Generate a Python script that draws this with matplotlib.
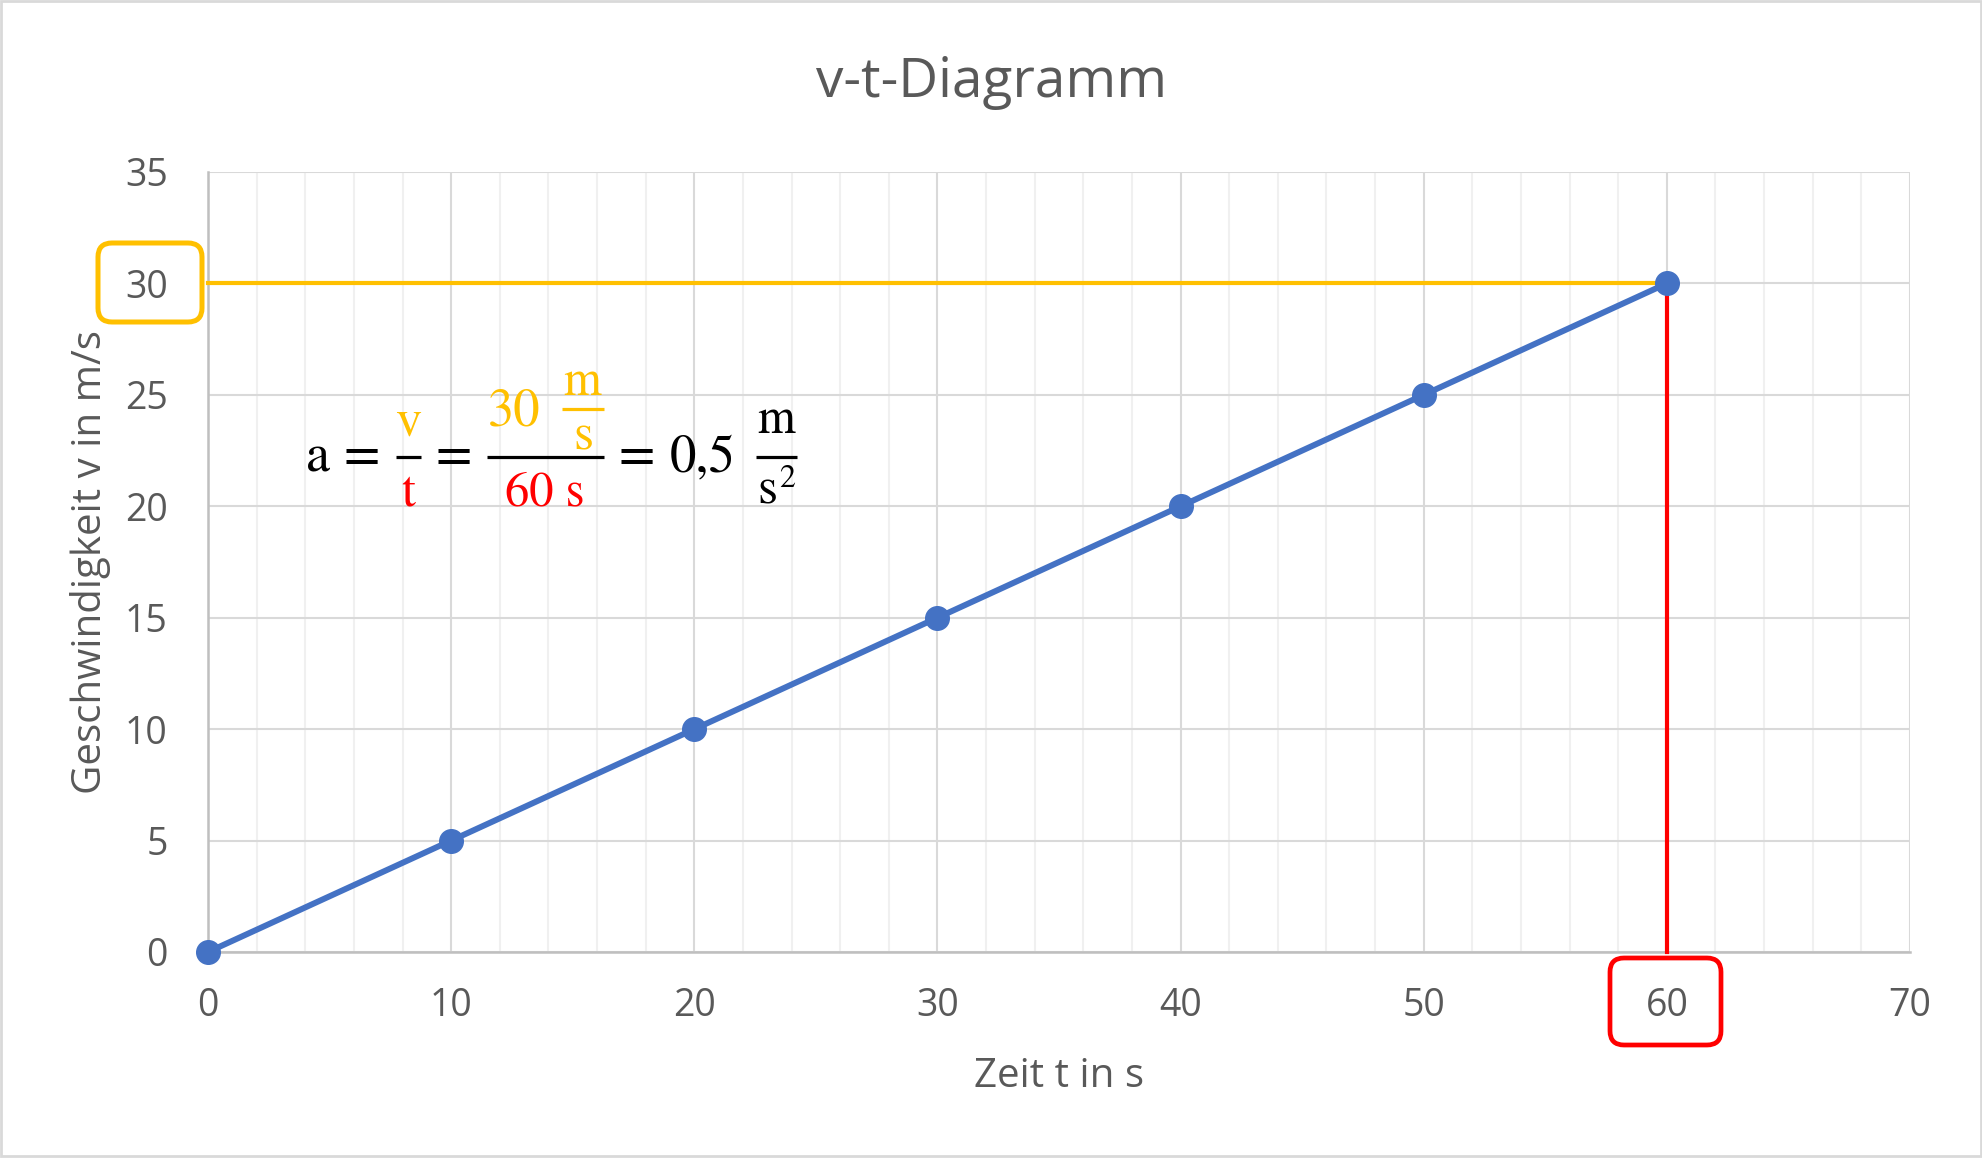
import matplotlib
matplotlib.use("Agg")
import matplotlib.pyplot as plt
from matplotlib.lines import Line2D
from matplotlib.patches import FancyBboxPatch
from matplotlib.transforms import Affine2D
from matplotlib.ticker import MultipleLocator

# ---- data ----
zeit = [0, 10, 20, 30, 40, 50, 60]
geschwindigkeit = [0, 5, 10, 15, 20, 25, 30]
x_ticks = [0, 10, 20, 30, 40, 50, 60, 70]
y_ticks = [0, 5, 10, 15, 20, 25, 30, 35]
v_mark = 30
t_mark = 60
title = "v-t-Diagramm"
x_label = "Zeit t in s"
y_label = "Geschwindigkeit v in m/s"

W, H = 1983, 1158
DPI = 100
SANS = ["Open Sans", "DejaVu Sans"]
SERIF = ["STIXGeneral", "DejaVu Serif"]
GREY = "#595959"
BLUE = "#4472C4"
YEL = "#FFC000"
RED = "#FF0000"

plt.rcParams["font.family"] = SANS
fig = plt.figure(figsize=(W / DPI, H / DPI), dpi=DPI)
px = Affine2D().scale(1 / W, -1 / H).translate(0, 1) + fig.transFigure  # pixel coords, y down

ax = fig.add_axes([208 / W, (H - 952) / H, (1910 - 208) / W, (952 - 172) / H])
ax.set_xlim(0, 70)
ax.set_ylim(0, 35)
ax.set_xticks(x_ticks)
ax.set_yticks(y_ticks)
ax.xaxis.set_minor_locator(MultipleLocator(2))
ax.grid(which="major", axis="both", color="#d9d9d9", linewidth=1.5, zorder=0)
ax.grid(which="minor", axis="x", color="#f0f0f0", linewidth=1.5, zorder=0)
ax.set_axisbelow(True)
for s in ["top", "right"]:
    ax.spines[s].set_visible(False)
for s in ["left", "bottom"]:
    ax.spines[s].set_color("#bfbfbf")
    ax.spines[s].set_linewidth(1.8)
ax.tick_params(which="both", length=0)
ax.tick_params(axis="y", pad=29, labelsize=27, labelcolor=GREY)
ax.tick_params(axis="x", pad=25, labelsize=27, labelcolor=GREY)

# guide lines
ax.plot([0, t_mark], [v_mark, v_mark], color=YEL, linewidth=3.0, zorder=3, clip_on=False)
ax.plot([t_mark, t_mark], [0, v_mark], color=RED, linewidth=3.0, zorder=3, clip_on=False)

# data line
ax.plot(zeit, geschwindigkeit, color=BLUE, linewidth=4.3, marker="o", markersize=17,
        zorder=4, clip_on=False)

# titles / labels
fig.text(0.5, 1 - 97 / H, title, ha="center", va="baseline", fontsize=39.5, color=GREY)
fig.text(1059 / W, 1 - 1087 / H, x_label, ha="center", va="baseline", fontsize=29, color=GREY)
fig.text(91 / W, 1 - 562 / H, y_label, ha="center", va="center", rotation=90,
         fontsize=29, color=GREY)

# highlight boxes
fig.add_artist(FancyBboxPatch((98, 243), 104, 79, boxstyle="round,pad=0,rounding_size=14",
                              transform=px, fill=False, edgecolor=YEL, linewidth=3.6))
fig.add_artist(FancyBboxPatch((1610, 958), 111, 87, boxstyle="round,pad=0,rounding_size=14",
                              transform=px, fill=False, edgecolor=RED, linewidth=3.4))

# equation (pixel positions, y downward)
def t(x, y, s, color="black", size=38):
    fig.text(x, y, s, transform=px, ha="center", va="baseline", fontsize=size,
             color=color, family=SERIF)

def bar(x1, x2, y, color="black"):
    fig.add_artist(Line2D([x1, x2], [y, y], transform=px, color=color, linewidth=2.3,
                          solid_capstyle="butt"))

t(318, 471.5, "a", "black", 39)
t(362, 471.5, "=")
t(408, 435, "v", YEL, 38)
bar(396, 421, 457)
t(408, 505, "t", RED, 36)
t(454, 471.5, "=")
t(514.5, 425, "30", YEL, 38)
t(582, 395, "m", YEL, 35)
bar(562, 604, 409, YEL)
t(583, 450, "s", YEL, 37)
bar(487, 604, 457)
t(545, 505, "60 s", RED, 35)
t(637, 471.5, "=")
t(702.5, 471.5, "0,5", "black", 38)
t(776, 433, "m", "black", 35)
bar(756, 797, 457)
t(767, 503, "s", "black", 37)
t(787, 487, "2", "black", 23)

# figure border
fig.add_artist(plt.Rectangle((1, 1), W - 3, H - 3, transform=px, fill=False,
                             edgecolor="#d9d9d9", linewidth=2))

fig.savefig("out.png", dpi=DPI)
